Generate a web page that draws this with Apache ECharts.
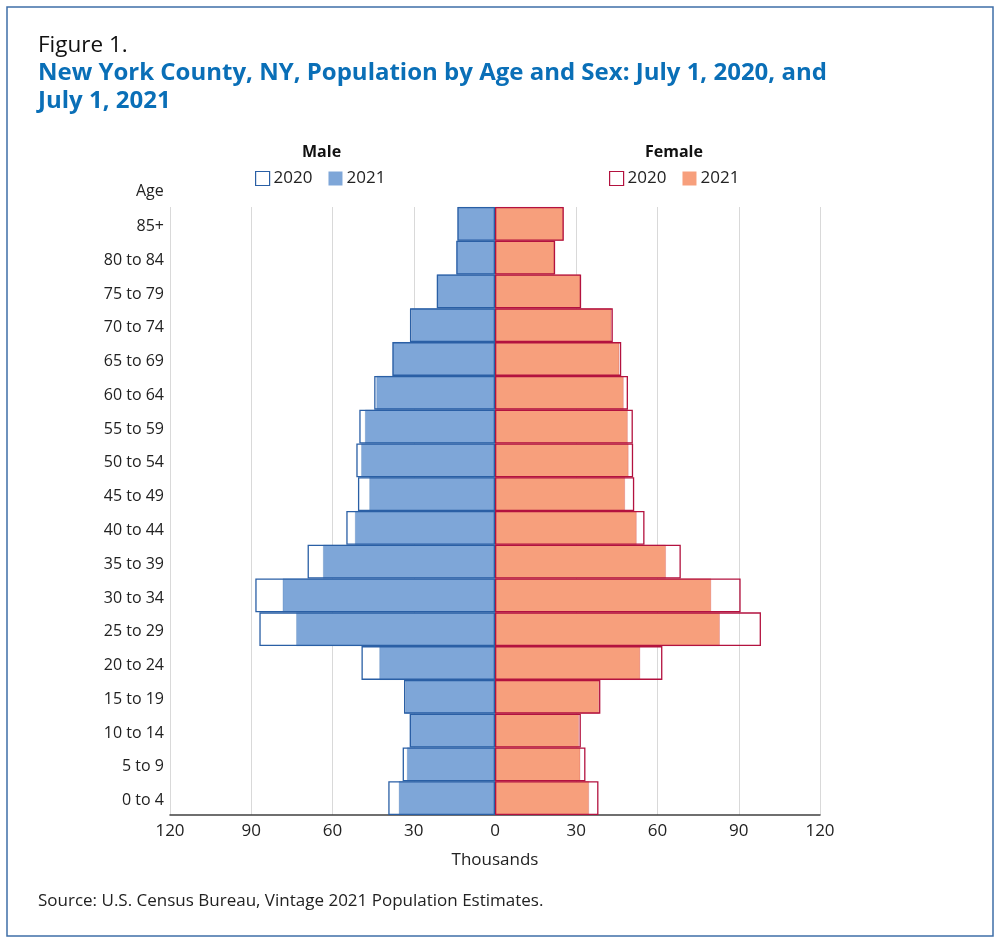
<!DOCTYPE html>
<html>
<head>
<meta charset="utf-8">
<script src="https://cdn.jsdelivr.net/npm/echarts@6/dist/echarts.min.js"></script>
<style>
  html, body { margin: 0; padding: 0; background: #fff; }
  #chart { width: 1000px; height: 943px; }
</style>
</head>
<body>
<div id="chart"></div>
<script>
// age groups, bottom to top
var ages = ['0 to 4', '5 to 9', '10 to 14', '15 to 19', '20 to 24', '25 to 29', '30 to 34',
  '35 to 39', '40 to 44', '45 to 49', '50 to 54', '55 to 59', '60 to 64', '65 to 69',
  '70 to 74', '75 to 79', '80 to 84', '85+'];

// thousands
var male2020 = [39.4, 34.1, 31.5, 33.6, 49.3, 87.0, 88.5, 69.2, 54.9, 50.6, 51.2, 50.1, 44.6, 37.9, 31.4, 21.5, 14.3, 13.9];
var male2021 = [35.5, 32.5, 31.4, 33.1, 42.7, 73.4, 78.4, 63.5, 51.7, 46.4, 49.4, 48.0, 43.8, 37.8, 30.9, 21.4, 14.2, 13.8];
var female2020 = [38.2, 33.4, 31.7, 38.9, 61.8, 98.2, 90.7, 68.6, 55.2, 51.4, 51.0, 50.9, 49.1, 46.6, 43.5, 31.8, 22.2, 25.4];
var female2021 = [34.7, 31.5, 31.0, 38.4, 53.6, 83.0, 79.8, 63.1, 52.3, 48.0, 49.3, 49.0, 47.5, 45.9, 43.0, 31.5, 21.9, 25.3];

var xTicks = [-120, -90, -60, -30, 0, 30, 60, 90, 120];

var maleFill = '#7ea6d8', maleLine = '#2a5fa5';
var femaleFill = '#f79f7c', femaleLine = '#b3123f';
var font = 'Open Sans';

var myChart = echarts.init(document.getElementById('chart'));

function neg(arr) {
  return arr.map(function (v) { return -v; });
}

var option = {
  animation: false,
  textStyle: { fontFamily: font },
  title: [
    {
      text: 'Figure 1.',
      left: 33, top: 29,
      textStyle: { fontFamily: font, fontSize: 22.5, fontWeight: 'normal', color: '#111' }
    },
    {
      text: 'New York County, NY, Population by Age and Sex: July 1, 2020, and\nJuly 1, 2021',
      left: 33, top: 54,
      textStyle: { fontFamily: font, fontSize: 24, fontWeight: 'bold', color: '#0a6fb7', lineHeight: 28 }
    },
    {
      text: 'Male',
      left: 297, top: 139,
      textStyle: { fontFamily: font, fontSize: 16, fontWeight: 'bold', color: '#111' }
    },
    {
      text: 'Female',
      left: 640, top: 139,
      textStyle: { fontFamily: font, fontSize: 16, fontWeight: 'bold', color: '#111' }
    },
    {
      text: 'Source: U.S. Census Bureau, Vintage 2021 Population Estimates.',
      left: 33, top: 888,
      textStyle: { fontFamily: font, fontSize: 17, fontWeight: 'normal', color: '#222' }
    }
  ],
  legend: [
    {
      left: 250, top: 165,
      itemWidth: 14, itemHeight: 14, itemGap: 16,
      icon: 'rect',
      selectedMode: false,
      textStyle: { fontFamily: font, fontSize: 17, color: '#222', padding: [0, 0, 0, -1] },
      formatter: function (name) { return name.split(' ')[1]; },
      data: [
        { name: 'Male 2020', itemStyle: { color: '#fff', borderColor: maleLine, borderWidth: 1.2 } },
        { name: 'Male 2021', itemStyle: { color: maleFill, borderWidth: 0 } }
      ]
    },
    {
      left: 604, top: 165,
      itemWidth: 14, itemHeight: 14, itemGap: 16,
      icon: 'rect',
      selectedMode: false,
      textStyle: { fontFamily: font, fontSize: 17, color: '#222', padding: [0, 0, 0, -1] },
      formatter: function (name) { return name.split(' ')[1]; },
      data: [
        { name: 'Female 2020', itemStyle: { color: '#fff', borderColor: femaleLine, borderWidth: 1.2 } },
        { name: 'Female 2021', itemStyle: { color: femaleFill, borderWidth: 0 } }
      ]
    }
  ],
  grid: { left: 170, right: 180, top: 207, bottom: 128 },
  xAxis: {
    type: 'value',
    min: xTicks[0],
    max: xTicks[xTicks.length - 1],
    interval: 30,
    name: 'Thousands',
    nameLocation: 'middle',
    nameGap: 37,
    nameTextStyle: { fontFamily: font, fontSize: 17, color: '#222' },
    axisLine: { show: true, lineStyle: { color: '#404040', width: 1.5 } },
    axisTick: { show: false },
    axisLabel: {
      margin: 8,
      fontFamily: font, fontSize: 17, color: '#222',
      formatter: function (v) { return Math.abs(v); }
    },
    splitLine: { show: true, lineStyle: { color: '#d9d9d9', width: 1 } }
  },
  yAxis: {
    type: 'category',
    data: ages,
    axisLine: { show: false },
    axisTick: { show: false },
    axisLabel: {
      margin: 6, fontFamily: font, fontSize: 16, color: '#222',
      formatter: function (v) { return '{a|' + v + '}'; },
      rich: { a: { fontFamily: font, fontSize: 16, color: '#222', padding: [5, 0, 0, 0] } }
    },
    splitLine: { show: false }
  },
  graphic: [
    {
      type: 'text',
      left: 136, top: 183,
      style: { text: 'Age', fontFamily: font, fontSize: 16, fill: '#222' }
    },
    {
      type: 'rect',
      shape: { x: 7, y: 7, width: 986, height: 929 },
      style: { fill: 'none', stroke: '#3f6fa8', lineWidth: 1.5 },
      silent: true
    }
  ],
  series: [
    {
      name: 'Male 2021', type: 'bar', data: neg(male2021),
      barGap: '-100%', barCategoryGap: '0%',
      itemStyle: { color: maleFill, borderColor: 'rgba(42,95,165,0.35)', borderWidth: 0.6 }
    },
    {
      name: 'Female 2021', type: 'bar', data: female2021,
      barGap: '-100%', barCategoryGap: '0%',
      itemStyle: { color: femaleFill, borderColor: 'rgba(179,18,63,0.3)', borderWidth: 0.6 }
    },
    {
      name: 'Male 2020', type: 'bar', data: neg(male2020),
      barGap: '-100%', barCategoryGap: '0%',
      itemStyle: { color: 'rgba(0,0,0,0)', borderColor: maleLine, borderWidth: 1.3 }
    },
    {
      name: 'Female 2020', type: 'bar', data: female2020,
      barGap: '-100%', barCategoryGap: '0%',
      itemStyle: { color: 'rgba(0,0,0,0)', borderColor: femaleLine, borderWidth: 1.3 }
    }
  ]
};

myChart.setOption(option);
</script>
</body>
</html>
